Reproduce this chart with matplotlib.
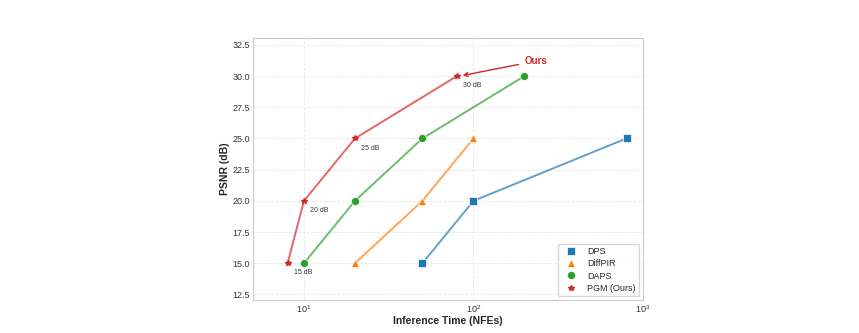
import matplotlib
matplotlib.use("Agg")
import matplotlib.pyplot as plt
import seaborn as sns

sns.set_style("whitegrid")
plt.rcParams['font.family'] = ['Liberation Sans', 'DejaVu Sans']

dps_x = [50, 100, 800]
dps_y = [15, 20, 25]
diffpir_x = [20, 50, 100]
diffpir_y = [15, 20, 25]
daps_x = [10, 20, 50, 200]
daps_y = [15, 20, 25, 30]
pgm_x = [8, 10, 20, 80]
pgm_y = [15, 20, 25, 30]
pgm_labels = ["15 dB", "20 dB", "25 dB", "30 dB"]

fig = plt.figure(figsize=(8.59, 3.33), dpi=100)
ax = fig.add_axes([0.2945, 0.099, 0.454, 0.787])

c_dps, c_diff, c_daps, c_pgm = "#1f77b4", "#ff7f0e", "#2ca02c", "#d62728"

ax.plot(dps_x, dps_y, color=c_dps, alpha=0.7, lw=1.4, zorder=2)
ax.plot(dps_x, dps_y, 's', color=c_dps, ms=5.5, mec='white', mew=0.5, label="DPS", zorder=3)
ax.plot(diffpir_x, diffpir_y, color=c_diff, alpha=0.7, lw=1.4, zorder=2)
ax.plot(diffpir_x, diffpir_y, '^', color=c_diff, ms=6, mec='white', mew=0.5, label="DiffPIR", zorder=3)
ax.plot(daps_x, daps_y, color=c_daps, alpha=0.7, lw=1.4, zorder=2)
ax.plot(daps_x, daps_y, 'o', color=c_daps, ms=5.8, mec='white', mew=0.5, label="DAPS", zorder=3)
ax.plot(pgm_x, pgm_y, color=c_pgm, alpha=0.7, lw=1.4, zorder=2)
ax.plot(pgm_x, pgm_y, '*', color=c_pgm, ms=4, label="PGM (Ours)", zorder=3)

for x, y, t in zip(pgm_x, pgm_y, pgm_labels):
    ax.annotate(t, (x, y), xytext=(4.5, -8), textcoords='offset points', fontsize=5, color='#333333')

ax.annotate("Ours", xy=(pgm_x[-1] * 1.04, pgm_y[-1]), xytext=(200, 31.2),
            color=c_pgm, fontsize=7, fontweight='bold', va='center',
            arrowprops=dict(arrowstyle='->', color=c_pgm, lw=1.0))

ax.set_xscale('log')
ax.set_xlim(5, 1000)
ax.set_ylim(12.05, 33.05)
ax.set_yticks([12.5, 15, 17.5, 20, 22.5, 25, 27.5, 30, 32.5])
ax.tick_params(labelsize=6.5, colors='#333333', pad=2, length=0)
ax.set_xlabel("Inference Time (NFEs)", fontsize=7.5, fontweight='bold', labelpad=1)
ax.set_ylabel("PSNR (dB)", fontsize=7.5, fontweight='bold', labelpad=2)
ax.grid(True, linestyle='--', alpha=0.5, lw=0.6)
for s in ax.spines.values():
    s.set_color('#cccccc')
    s.set_linewidth(0.8)

leg = ax.legend(loc='lower right', fontsize=6.5, frameon=True, markerscale=1.0,
                handlelength=2.0, labelspacing=0.35, borderaxespad=0.4)
leg.get_frame().set_edgecolor('#cccccc')

fig.savefig("out.png", dpi=100)
